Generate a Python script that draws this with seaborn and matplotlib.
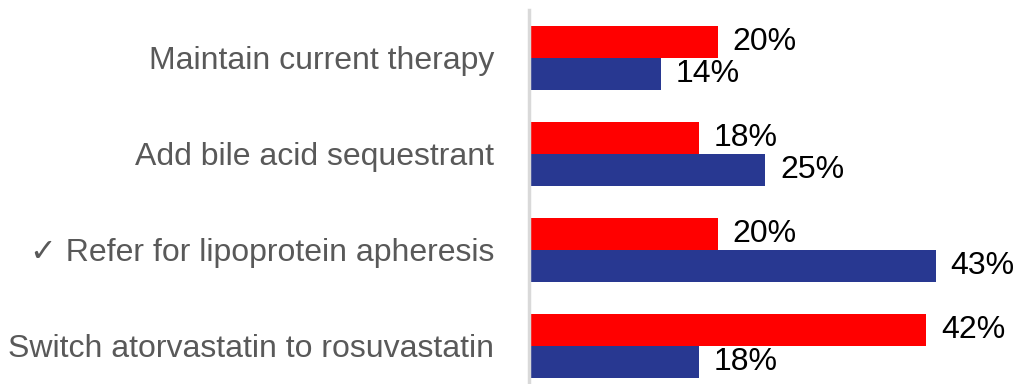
import matplotlib
matplotlib.use("Agg")
import matplotlib.pyplot as plt
import seaborn as sns
import pandas as pd

categories = [
    "Maintain current therapy",
    "Add bile acid sequestrant",
    "\u2713 Refer for lipoprotein apheresis",
    "Switch atorvastatin to rosuvastatin",
]
series_names = ["Series A", "Series B"]
values_a = [20, 18, 20, 42]
values_b = [14, 25, 43, 18]
colors = ["#FF0000", "#283891"]

sns.set_theme(style="white")
plt.rcParams["font.family"] = ["Liberation Sans", "DejaVu Sans"]

df = pd.DataFrame({
    "category": categories * 2,
    "series": [series_names[0]] * 4 + [series_names[1]] * 4,
    "value": values_a + values_b,
})

W, H = 1018, 384
fig = plt.figure(figsize=(W / 100, H / 100), dpi=100)
left_px, top_px = 529, 10
ax = fig.add_axes([left_px / W, 0, 1 - left_px / W, 1 - top_px / H])

sns.barplot(data=df, y="category", x="value", hue="series", order=categories,
            hue_order=series_names, palette=colors, orient="h", width=0.667,
            saturation=1, dodge=True, legend=False, linewidth=0, ax=ax)

for container in ax.containers:
    ax.bar_label(container, labels=[f"{v:.0f}%" for v in container.datavalues],
                 padding=10.5, fontsize=23, color="black")

ax.set_xlim(0, 51.7)
ax.set_ylim(3.4, -0.5)
ax.set_xlabel("")
ax.set_ylabel("")
ax.set_xticks([])
ax.tick_params(axis="y", length=0, pad=25, labelsize=23, labelcolor="#595959")
for side in ["top", "right", "bottom"]:
    ax.spines[side].set_visible(False)
ax.spines["left"].set_color("#D9D9D9")
ax.spines["left"].set_linewidth(2.5)

fig.savefig("out.png", dpi=100)
